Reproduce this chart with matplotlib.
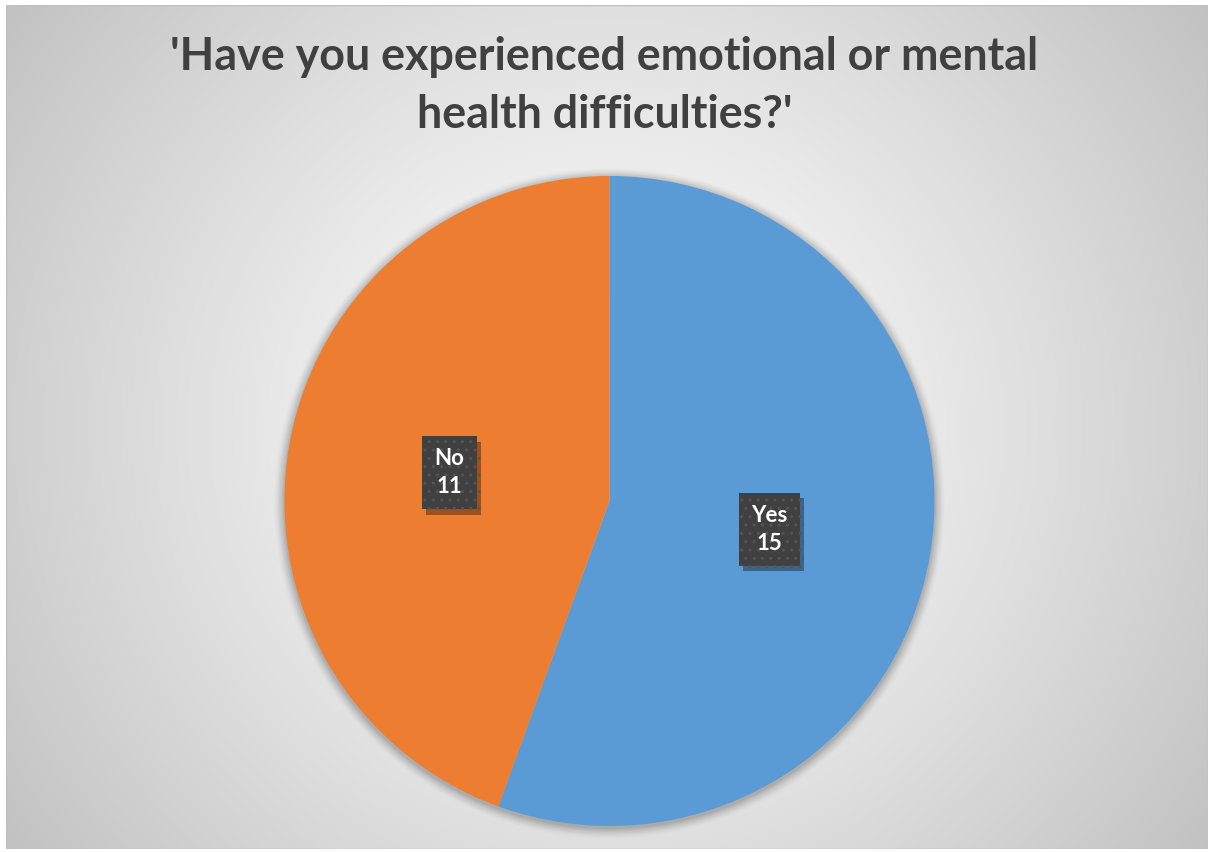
import numpy as np
import matplotlib
matplotlib.use("Agg")
import matplotlib.pyplot as plt
from matplotlib.patches import Rectangle, Circle
import matplotlib.patheffects as pe

categories = ["Yes", "No"]
label_values = [15, 11]          # numbers printed in the data labels
slice_values = [15, 12]          # slice sizes as drawn in the reference (Yes ≈ 200°)
colors = ["#5B9BD5", "#ED7D31"]
title = "'Have you experienced emotional or mental\nhealth difficulties?'"

W, H = 1209, 852
fig = plt.figure(figsize=(W / 100, H / 100), dpi=100)
fig.patch.set_facecolor("white")
FONT = ["Lato", "Open Sans", "DejaVu Sans"]

# background radial gradient over chart area
x0, y0, x1, y1 = 6, 5, 1208, 849
bg = fig.add_axes([x0 / W, 1 - y1 / H, (x1 - x0) / W, (y1 - y0) / H])
nx, ny = 600, 420
xx, yy = np.meshgrid(np.linspace(-1, 1, nx), np.linspace(-1, 1, ny))
r = np.sqrt(xx ** 2 + (yy * 0.72) ** 2) / np.sqrt(1 + 0.72 ** 2)
r = np.clip(r, 0, 1)
val = 1.0 - 0.24 * r ** 1.2
img = np.dstack([val, val, val])
bg.imshow(img, extent=[0, 1, 0, 1], aspect="auto", origin="lower")
bg.set_axis_off()
bg.add_patch(Rectangle((0, 0), 1, 1, transform=bg.transAxes, fill=False,
                       edgecolor="#BFBFBF", linewidth=1.0))

# pie
cx, cy, rad = 609.5, 501, 325
pad = 1.05
ax = fig.add_axes([(cx - rad * pad) / W, 1 - (cy + rad * pad) / H,
                   2 * rad * pad / W, 2 * rad * pad / H])
ax.set_facecolor("none")
# soft shadow around the pie
for i, a in enumerate(np.linspace(0.05, 0.012, 8)):
    ax.add_patch(Circle((0, -0.006), 1.0 + 0.004 * (i + 1), facecolor="black",
                        edgecolor="none", alpha=a, zorder=0))
wedges, _ = ax.pie(slice_values, colors=colors, startangle=90, counterclock=False,
                   radius=1.0, wedgeprops=dict(linewidth=0, zorder=2))
ax.set_xlim(-pad, pad)
ax.set_ylim(-pad, pad)
ax.set_aspect("equal")
ax.axis("off")

# data labels
total = sum(slice_values)
label_r = 0.50
angle = 90.0
for cat, v, lv in zip(categories, slice_values, label_values):
    span = 360.0 * v / total
    mid = np.deg2rad(angle - span / 2)
    angle -= span
    lx, ly = label_r * np.cos(mid), label_r * np.sin(mid)
    t = ax.text(lx, ly, f"{cat}\n{lv}", color="white", zorder=6,
                ha="center", va="center", fontsize=16, fontweight="bold",
                family=FONT, linespacing=1.4,
                bbox=dict(boxstyle="square,pad=0.55", facecolor="#404040",
                          edgecolor="#555555", linewidth=0, hatch=".."))
    t.get_bbox_patch().set_path_effects(
        [pe.SimplePatchShadow(offset=(3, -4), shadow_rgbFace="black", alpha=0.35),
         pe.Normal()])

# title, two lines
lines = title.split("\n")
baselines = [70, 128]
for ln, b in zip(lines, baselines):
    fig.text(0.5, 1 - b / H, ln, ha="center", va="baseline", color="#404040",
             fontsize=32.3, fontweight="bold", family=FONT)

fig.savefig("out.png", dpi=100, facecolor=fig.get_facecolor())
